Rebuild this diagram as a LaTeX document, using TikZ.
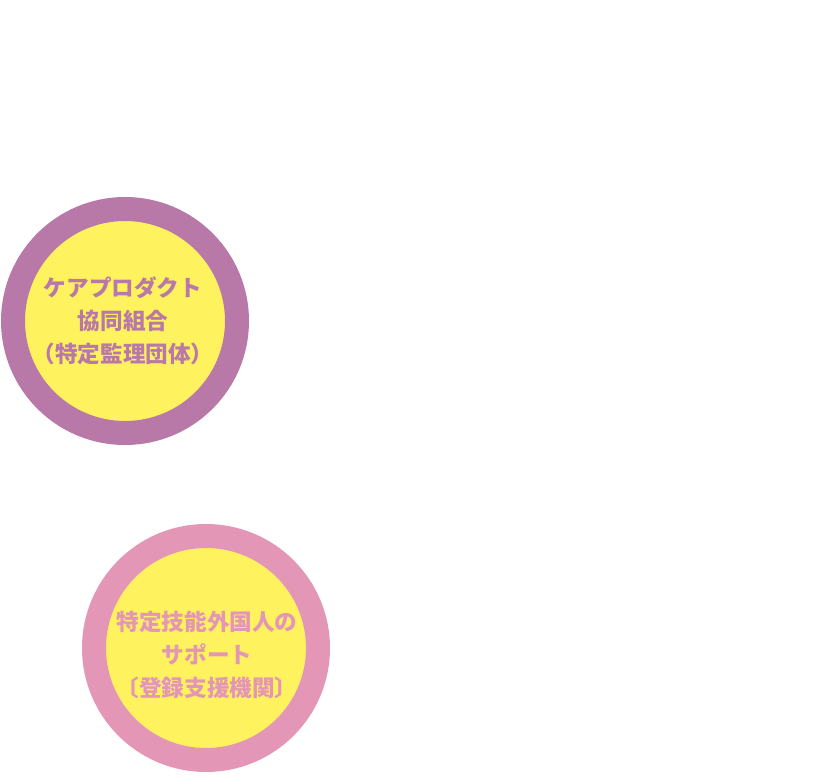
\documentclass[tikz,border=0pt]{standalone}
\usepackage{fontspec}
\usepackage{tikz}
\usetikzlibrary{positioning}
\newfontfamily\jpfont{Noto Sans CJK JP}
\definecolor{kumiaipurple}{RGB}{184,120,168}
\definecolor{shienpink}{RGB}{228,150,182}
\definecolor{innerYellow}{RGB}{255,242,95}
\tikzset{
  ring/.style={circle,fill=innerYellow,line width=24pt,minimum size=224pt,inner sep=0pt},
  ringtext/.style={align=center,font=\jpfont\bfseries\fontsize{22.6pt}{33pt}\selectfont}
}

\begin{document}
\begin{tikzpicture}[x=1pt,y=-1pt]
    \useasboundingbox (0,0) rectangle (820,784);
    % Kumiai
    \node[ring,draw=kumiaipurple] (kumiai) at (125,321) {};
    \node[ringtext,text=kumiaipurple] (kumiaitext) at (123,321) {ケアプロダクト\\協同組合\\（特定監理団体）};

    % Shien
    \node[ring,draw=shienpink] (shien) at (206,648) {};
    \node[ringtext,text=shienpink] (shientext) at (207,655) {特定技能外国人の\\サポート\\〔登録支援機関〕};
\end{tikzpicture}
\end{document}
